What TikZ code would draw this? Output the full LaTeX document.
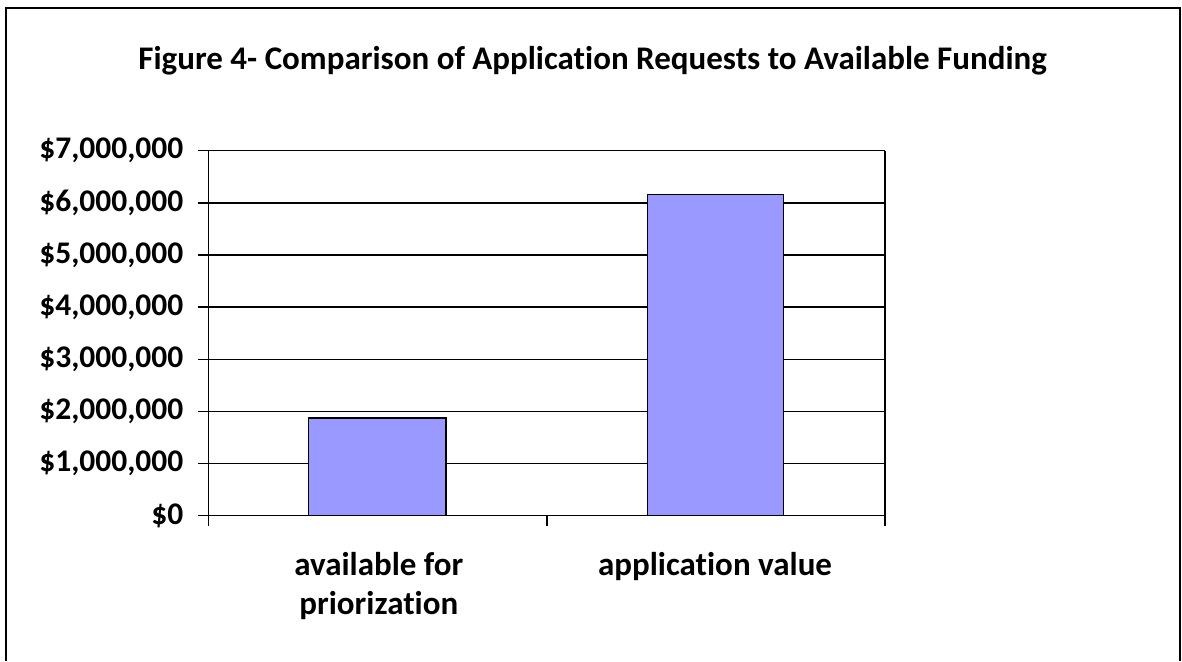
\documentclass[tikz,border=0pt]{standalone}
\usepackage{fontspec}
\setmainfont{Carlito}[Ligatures=NoCommon]
\definecolor{barfill}{HTML}{9999FF}
\begin{document}
\begin{tikzpicture}[x=1pt,y=-1pt,
  frame/.style={line width=2pt,black},
  grid/.style={line width=1.4pt,black},
  bar/.style={fill=barfill,draw=black,line width=1.4pt},
  ylab/.style={anchor=east,inner sep=0pt,font=\fontsize{31.5}{38}\selectfont\bfseries},
  xlab/.style={anchor=north,inner sep=0pt,align=center,font=\fontsize{33}{39}\selectfont\bfseries},
  ttl/.style={anchor=base,inner sep=0pt,font=\fontsize{33}{39}\selectfont\bfseries}]
\useasboundingbox (0,0) rectangle (1182,661);
% frame (bottom edge off the picture)
\draw[frame] (5.7,661) -- (5.7,7.7) -- (1179.5,7.7) -- (1179.5,661);
\node[ttl] (title) at (592.6,70) {Figure 4- Comparison of Application Requests to Available Funding};
% gridlines and y labels
\foreach \v/\t in {0/{\$0},1/{\$1,000,000},2/{\$2,000,000},3/{\$3,000,000},4/{\$4,000,000},5/{\$5,000,000},6/{\$6,000,000},7/{\$7,000,000}}{
  \draw[grid] (198,515.7-\v*52.14) -- (885,515.7-\v*52.14);
  \node[ylab] (y\v) at (183.5,515.7-\v*52.14) {\t};
}
% axes
\draw[grid] (208.5,150.7) -- (208.5,526);
\draw[grid] (885,150.7) -- (885,526);
\draw[grid] (547,515.7) -- (547,526);
% bars
\draw[bar] (308.3,515.7) rectangle (446,418);
\draw[bar] (647.3,515.7) rectangle (783.3,194.3);
\draw[grid] (198,515.7) -- (885,515.7);
% category labels
\node[xlab] (c1) at (378.8,552.5) {available for\\priorization};
\node[xlab] (c2) at (715,552.5) {application value};
\end{tikzpicture}
\end{document}
